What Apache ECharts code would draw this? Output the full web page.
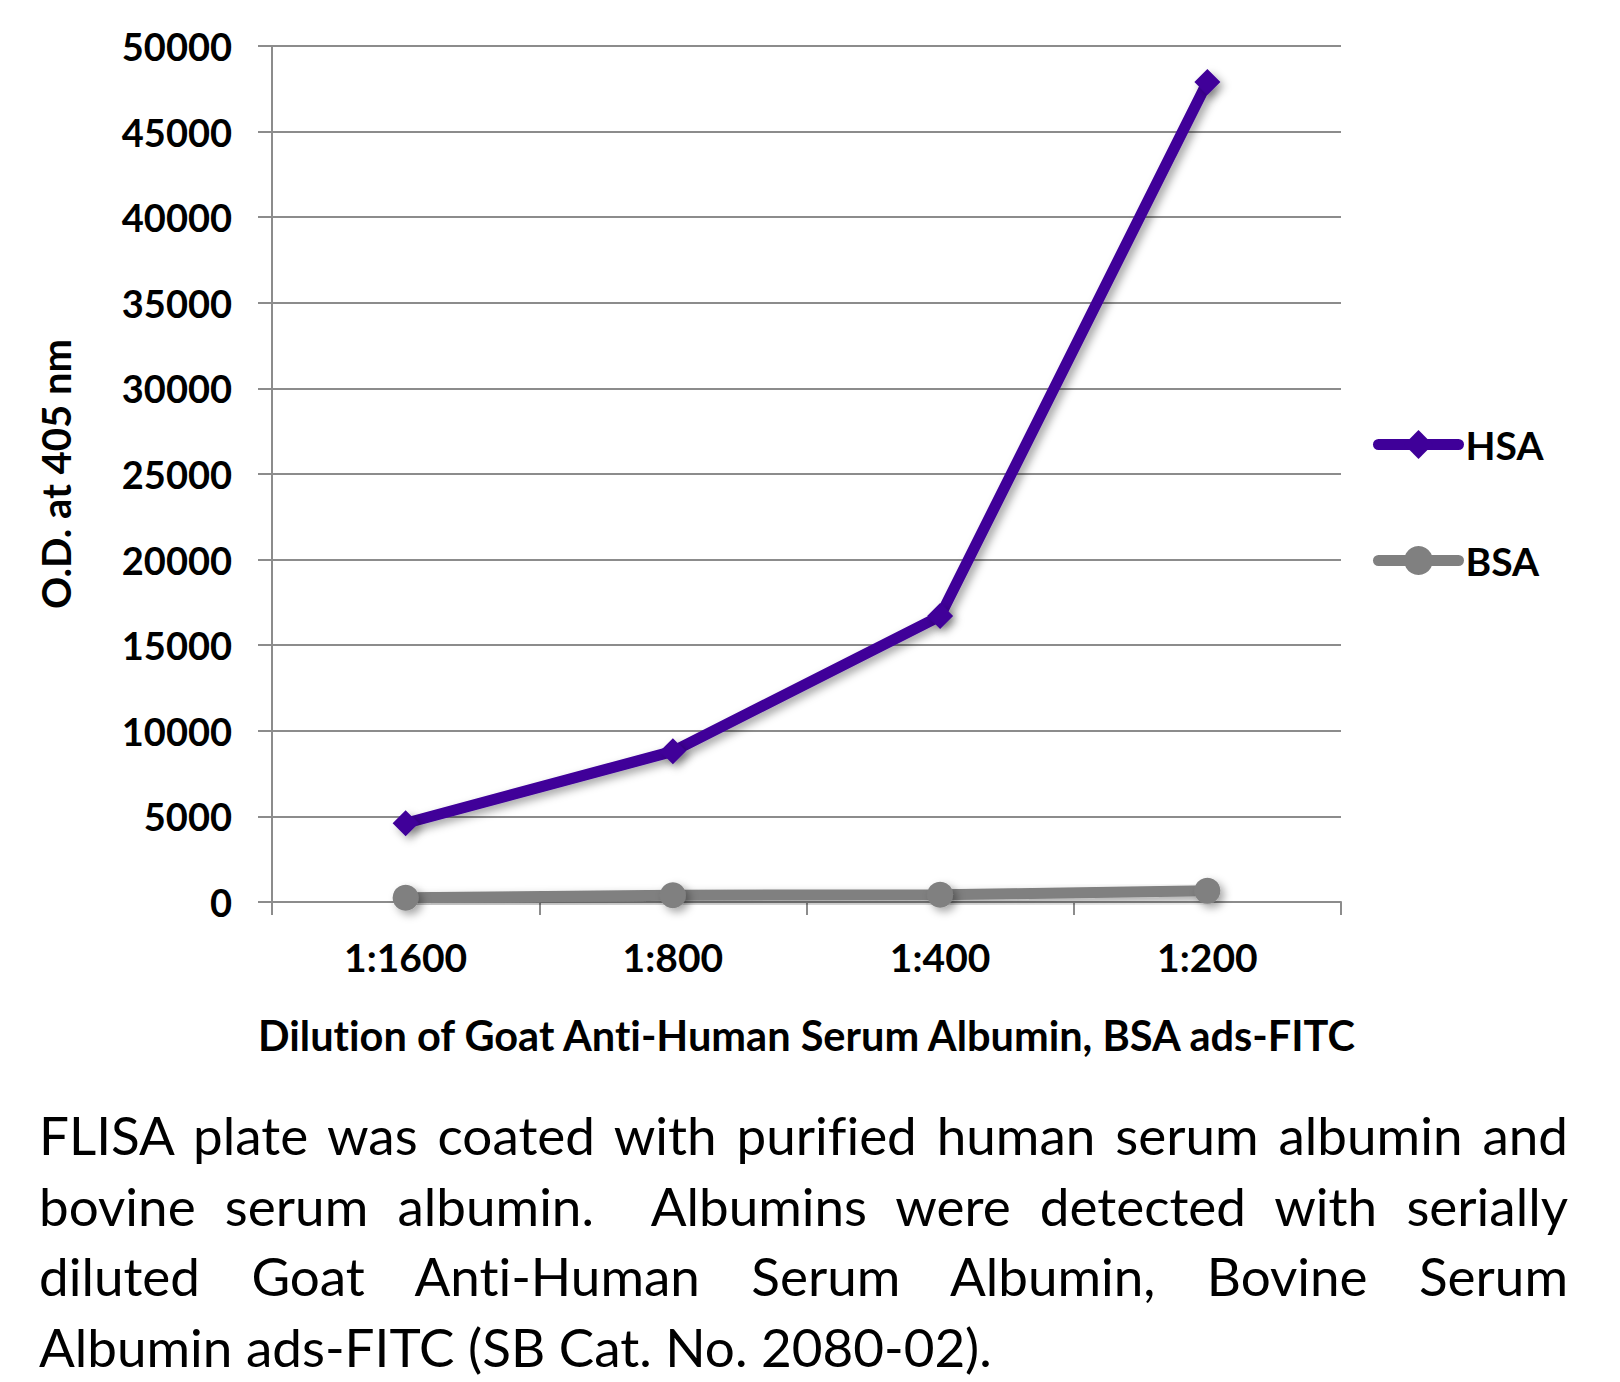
<!DOCTYPE html>
<html>
<head>
<meta charset="utf-8">
<script src="https://cdn.jsdelivr.net/npm/echarts@6/dist/echarts.min.js"></script>
<style>
  html, body { margin: 0; padding: 0; background: #fff; }
  #chart { position: absolute; left: 0; top: 0; width: 1620px; height: 1090px; }
  #chart text { font-variant-ligatures: none; font-feature-settings: "liga" 0, "dlig" 0; }
  #caption { position: absolute; left: 39px; top: 1100px; width: 1529px;
    font-family: Lato, "Open Sans", sans-serif; font-size: 53px; line-height: 70.5px; color: #000;
    font-variant-ligatures: none; font-feature-settings: "liga" 0; }
  #caption .j { text-align: justify; text-align-last: justify; white-space: nowrap; }
  #caption .l { text-align: left; white-space: nowrap; }
</style>
</head>
<body>
<div id="chart"></div>
<div id="caption">
  <div class="j">FLISA plate was coated with purified human serum albumin and</div>
  <div class="j">bovine serum albumin.&nbsp; Albumins were detected with serially</div>
  <div class="j">diluted Goat Anti-Human Serum Albumin, Bovine Serum</div>
  <div class="l">Albumin ads-FITC (SB Cat. No. 2080-02).</div>
</div>
<script>
const categories = ['1:1600', '1:800', '1:400', '1:200'];
const hsaValues = [4600, 8800, 16700, 47900];
const bsaValues = [250, 400, 420, 650];
const seriesNames = ['HSA', 'BSA'];
const yMin = 0, yMax = 50000, yInterval = 5000;
const xAxisTitle = 'Dilution of Goat Anti-Human Serum Albumin, BSA ads-FITC';
const yAxisTitle = 'O.D. at 405 nm';

const FONT = 'Lato, "Open Sans", sans-serif';
const HSA_COLOR = '#3f0099';
const BSA_COLOR = '#808080';
const GRID_COLOR = '#8c8c8c';
const shadow = { shadowColor: 'rgba(0,0,0,0.35)', shadowBlur: 8, shadowOffsetX: 4, shadowOffsetY: 4 };

const chart = echarts.init(document.getElementById('chart'), null, { renderer: 'svg' });
chart.setOption({
  animation: false,
  backgroundColor: '#fff',
  grid: { left: 272, right: 279, top: 46, bottom: 188, containLabel: false },
  legend: {
    orient: 'vertical',
    left: 1373,
    top: 425,
    padding: 0,
    itemWidth: 80,
    itemHeight: 36,
    itemGap: 77,
    lineStyle: { width: 11, cap: 'round' },
    textStyle: { fontFamily: FONT, fontWeight: 'bold', fontSize: 39, color: '#000', padding: [0, 0, 0, 2] },
    data: seriesNames
  },
  xAxis: {
    type: 'category',
    data: categories,
    boundaryGap: true,
    name: xAxisTitle,
    nameLocation: 'middle',
    nameGap: 112,
    nameTextStyle: { fontFamily: FONT, fontWeight: 'bold', fontSize: 41.5, color: '#000' },
    axisLine: { show: true, lineStyle: { color: GRID_COLOR, width: 2 } },
    axisTick: { show: true, length: 13, lineStyle: { color: GRID_COLOR, width: 2 } },
    axisLabel: { margin: 35, fontFamily: FONT, fontWeight: 'bold', fontSize: 39, color: '#000' },
    splitLine: { show: false }
  },
  yAxis: {
    type: 'value',
    min: yMin, max: yMax, interval: yInterval,
    name: yAxisTitle,
    nameLocation: 'middle',
    nameGap: 196,
    nameRotate: 90,
    nameTextStyle: { fontFamily: FONT, fontWeight: 'bold', fontSize: 40, color: '#000' },
    axisLine: { show: true, lineStyle: { color: GRID_COLOR, width: 2 } },
    axisTick: { show: true, inside: false, length: 14, lineStyle: { color: GRID_COLOR, width: 2 } },
    axisLabel: { margin: 40, fontFamily: FONT, fontWeight: 'bold', fontSize: 38, color: '#000',
      formatter: function (v) { return String(v); } },
    splitLine: { show: true, lineStyle: { color: GRID_COLOR, width: 2 } }
  },
  series: [
    {
      name: seriesNames[0], type: 'line', data: hsaValues,
      symbol: 'diamond', symbolSize: 26,
      lineStyle: Object.assign({ color: HSA_COLOR, width: 11 }, shadow),
      itemStyle: Object.assign({ color: HSA_COLOR, borderWidth: 0 }, shadow),
      z: 3
    },
    {
      name: seriesNames[1], type: 'line', data: bsaValues,
      symbol: 'circle', symbolSize: 26,
      lineStyle: Object.assign({ color: BSA_COLOR, width: 11 }, shadow),
      itemStyle: Object.assign({ color: BSA_COLOR, borderWidth: 0 }, shadow),
      z: 2
    }
  ]
});
</script>
</body>
</html>
